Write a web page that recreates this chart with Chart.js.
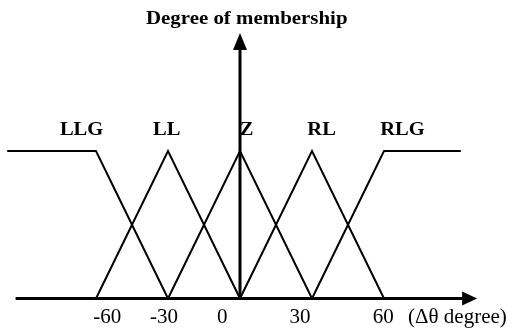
<!DOCTYPE html>
<html>
<head>
<meta charset="utf-8">
<script src="https://cdn.jsdelivr.net/npm/chart.js@4.4.1/dist/chart.umd.min.js"></script>
<style>
  html, body { margin: 0; padding: 0; background: #fff; }
  #wrap { width: 514px; height: 331px; }
</style>
</head>
<body>
<div id="wrap"><canvas id="c" width="514" height="331"></canvas></div>
<script>
// Fuzzy sets for the heading error (degrees) and their membership breakpoints
const setNames = ['LLG', 'LL', 'Z', 'RL', 'RLG'];
const setX = [
  [-97, -60, -30],
  [-60, -30, 0],
  [-30, 0, 30],
  [0, 30, 60],
  [30, 60, 92]
];
const setY = [
  [1, 1, 0],
  [0, 1, 0],
  [0, 1, 0],
  [0, 1, 0],
  [0, 1, 1]
];
// Where each set name is written (degrees) above its peak
const nameAt = [-66, -30.5, 2.8, 34, 67.7];

// Axis tick labels and the positions they are printed at
const tickLabels = ['-60', '-30', '0', '30', '60', '(\u0394\u03B8 degree)'];
const tickAt = [-55.3, -31.7, -7.4, 25, 59.7, 90.6];

const yTitle = 'Degree of membership';

const datasets = setNames.map((name, i) => ({
  label: name,
  data: setX[i].map((x, j) => ({ x: x, y: setY[i][j] })),
  showLine: true,
  borderColor: '#000',
  borderWidth: 2,
  pointRadius: 0,
  tension: 0,
  fill: false
}));

// Bold serif text, slightly widened
function wideText(ctx, text, px, py, stretch) {
  ctx.save();
  ctx.translate(px, py);
  ctx.scale(stretch, 1);
  ctx.fillText(text, 0, 0);
  ctx.restore();
}

// Draws the arrowed axes, the set names and the vertical axis title
const annotate = {
  id: 'annotate',
  afterDatasetsDraw(chart, args, opts) {
    const { ctx, scales: { x, y } } = chart;
    ctx.save();
    ctx.strokeStyle = '#000';
    ctx.fillStyle = '#000';
    ctx.lineWidth = 3;
    ctx.lineCap = 'butt';

    // horizontal axis with arrow
    const y0 = y.getPixelForValue(0);
    const hx0 = x.getPixelForValue(opts.xFrom);
    const hx1 = x.getPixelForValue(opts.xTo);
    ctx.beginPath();
    ctx.moveTo(hx0, y0);
    ctx.lineTo(hx1 - 14, y0);
    ctx.stroke();
    ctx.beginPath();
    ctx.moveTo(hx1, y0);
    ctx.lineTo(hx1 - 15, y0 - 7);
    ctx.lineTo(hx1 - 15, y0 + 7);
    ctx.closePath();
    ctx.fill();

    // vertical axis with arrow
    const vx = x.getPixelForValue(0);
    const vTop = y.getPixelForValue(opts.yTo);
    ctx.beginPath();
    ctx.moveTo(vx, y0);
    ctx.lineTo(vx, vTop + 15);
    ctx.stroke();
    ctx.beginPath();
    ctx.moveTo(vx, vTop);
    ctx.lineTo(vx - 7, vTop + 17);
    ctx.lineTo(vx + 7, vTop + 17);
    ctx.closePath();
    ctx.fill();

    // set names
    ctx.font = 'bold 19px "Liberation Serif", "Times New Roman", serif';
    ctx.textAlign = 'center';
    ctx.textBaseline = 'alphabetic';
    setNames.forEach((n, i) => {
      wideText(ctx, n, x.getPixelForValue(nameAt[i]), y.getPixelForValue(opts.nameY), 1.08);
    });

    // vertical axis title
    wideText(ctx, yTitle, x.getPixelForValue(opts.titleX), y.getPixelForValue(opts.titleY), 1.1);
    ctx.restore();
  }
};

new Chart(document.getElementById('c'), {
  type: 'scatter',
  data: { datasets: datasets },
  options: {
    responsive: false,
    animation: false,
    events: [],
    layout: { padding: { top: 33, bottom: 1.4, left: 0, right: 0 } },
    plugins: {
      legend: { display: false },
      tooltip: { enabled: false },
      annotate: { xFrom: -93.5, xTo: 98.8, yTo: 1.8, nameY: 1.108, titleX: 2.8, titleY: 1.864 }
    },
    scales: {
      x: {
        type: 'linear',
        min: -100,
        max: 114.17,
        grid: { display: false, drawTicks: false },
        border: { display: false },
        afterBuildTicks(scale) {
          scale.ticks = tickAt.map(v => ({ value: v }));
        },
        ticks: {
          autoSkip: false,
          maxRotation: 0,
          padding: 0,
          color: '#000',
          font: { family: '"Liberation Serif", "Times New Roman", serif', size: 21 },
          callback: (v, i) => tickLabels[i]
        }
      },
      y: {
        type: 'linear',
        display: false,
        min: -0.04,
        max: 1.8
      }
    }
  },
  plugins: [annotate]
});
</script>
</body>
</html>
